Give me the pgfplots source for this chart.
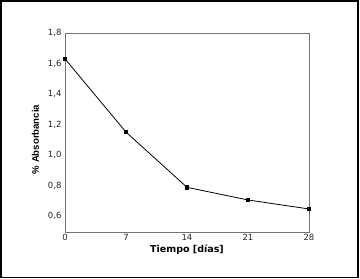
\documentclass[border=0pt]{standalone}
\usepackage{fontspec}
\setmainfont{DejaVu Sans}
\newfontfamily\arialfont{Liberation Sans}
\usepackage{pgfplots}
\pgfplotsset{compat=1.18}
\begin{document}
\begin{tikzpicture}[x=1pt,y=1pt]
\useasboundingbox (0,0) rectangle (360,279);
\draw[black, line width=1.6pt] (0.8,1.5) rectangle (358.2,278.2);
\begin{axis}[
  at={(65pt,47pt)}, anchor=south west,
  scale only axis, width=244pt, height=199pt,
  xmin=0, xmax=28, ymin=0.495, ymax=1.8,
  xtick={0,7,14,21,28}, ytick={0.6,0.8,1.0,1.2,1.4,1.6,1.8},
  major tick length=0pt,
  axis line style={draw=gray!90!black, line width=0.8pt},
  tick label style={font=\fontsize{8.5}{10}\selectfont, text=black!85},
  /pgf/number format/assume math mode=true,
  yticklabel style={/pgf/number format/.cd, use comma, fixed, fixed zerofill, precision=1},
  xticklabel style={yshift=1pt},
  xlabel={\textbf{Tiempo [días]}},
  ylabel={\arialfont\bfseries\% Absorbancia},
  xlabel style={font=\fontsize{9.5}{11}\selectfont, yshift=3pt},
  ylabel style={font=\fontsize{9.6}{11}\selectfont, at={(axis description cs:-0.092,0.465)}, anchor=south},
  clip=false,
]
\addplot[black, line width=0.8pt, mark=square*, mark size=1.6pt] coordinates {
(0,1.63) (7,1.15) (14,0.788) (21,0.705) (28,0.646)
};
\end{axis}
\end{tikzpicture}
\end{document}
